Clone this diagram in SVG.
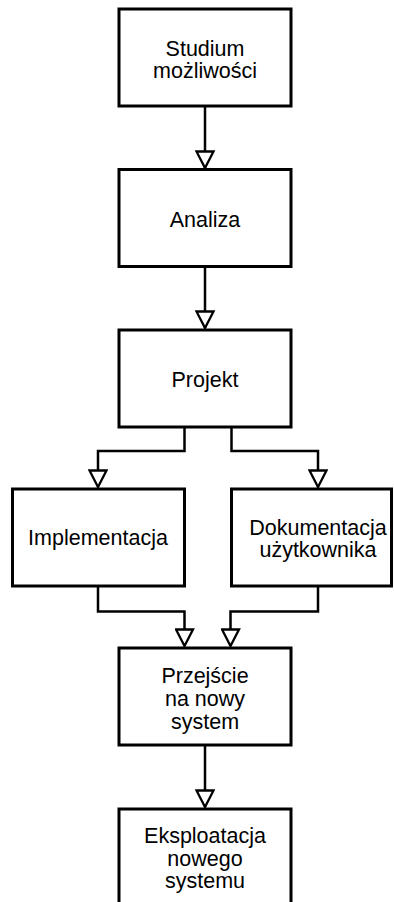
<svg xmlns="http://www.w3.org/2000/svg" width="394" height="902" viewBox="0 0 394 902">
<defs>
<style>
.box{fill:#fff;stroke:#000;stroke-width:3}
.lbl{font-family:"Liberation Sans",Arial,sans-serif;font-size:21.5px;fill:#000;text-anchor:middle}
.con{fill:none;stroke:#000;stroke-width:2.5}
</style>
<marker id="arr" viewBox="0 0 20 20" refX="18" refY="10" markerWidth="20" markerHeight="20" markerUnits="userSpaceOnUse" orient="auto">
<path d="M1.5,1.5 L18,10 L1.5,18.5 Z" fill="#fff" stroke="#000" stroke-width="2.3" stroke-linejoin="miter"/>
</marker>
</defs>
<rect width="394" height="902" fill="#fff"/>
<g id="connectors">
<path class="con" d="M205,106 V168" marker-end="url(#arr)"/>
<path class="con" d="M205,266 V328" marker-end="url(#arr)"/>
<path class="con" d="M184.5,427 V451 H98 V487" marker-end="url(#arr)"/>
<path class="con" d="M231.5,427 V451 H318 V487" marker-end="url(#arr)"/>
<path class="con" d="M98,586 V611.5 H184.5 V646" marker-end="url(#arr)"/>
<path class="con" d="M318,586 V611.5 H230.5 V646" marker-end="url(#arr)"/>
<path class="con" d="M205,745 V807" marker-end="url(#arr)"/>
</g>
<g id="studium">
<rect class="box" x="119" y="9" width="172" height="97"/>
<text class="lbl" x="205" y="56">Studium</text>
<text class="lbl" x="205" y="78">możliwości</text>
</g>
<g id="analiza">
<rect class="box" x="119" y="169.5" width="172" height="97"/>
<text class="lbl" x="205" y="227">Analiza</text>
</g>
<g id="projekt">
<rect class="box" x="119" y="330" width="172" height="97"/>
<text class="lbl" x="205" y="387">Projekt</text>
</g>
<g id="implementacja">
<rect class="box" x="12.5" y="489" width="172" height="97"/>
<text class="lbl" x="98" y="545">Implementacja</text>
</g>
<g id="dokumentacja">
<rect class="box" x="231.5" y="489" width="160" height="97"/>
<text class="lbl" x="318" y="535">Dokumentacja</text>
<text class="lbl" x="318" y="557">użytkownika</text>
</g>
<g id="przejscie">
<rect class="box" x="119" y="648" width="172" height="97"/>
<text class="lbl" x="205" y="683">Przejście</text>
<text class="lbl" x="205" y="706">na nowy</text>
<text class="lbl" x="205" y="729">system</text>
</g>
<g id="eksploatacja">
<rect class="box" x="119" y="809" width="172" height="110"/>
<text class="lbl" x="205" y="843">Eksploatacja</text>
<text class="lbl" x="205" y="865.5">nowego</text>
<text class="lbl" x="205" y="888">systemu</text>
</g>
</svg>
